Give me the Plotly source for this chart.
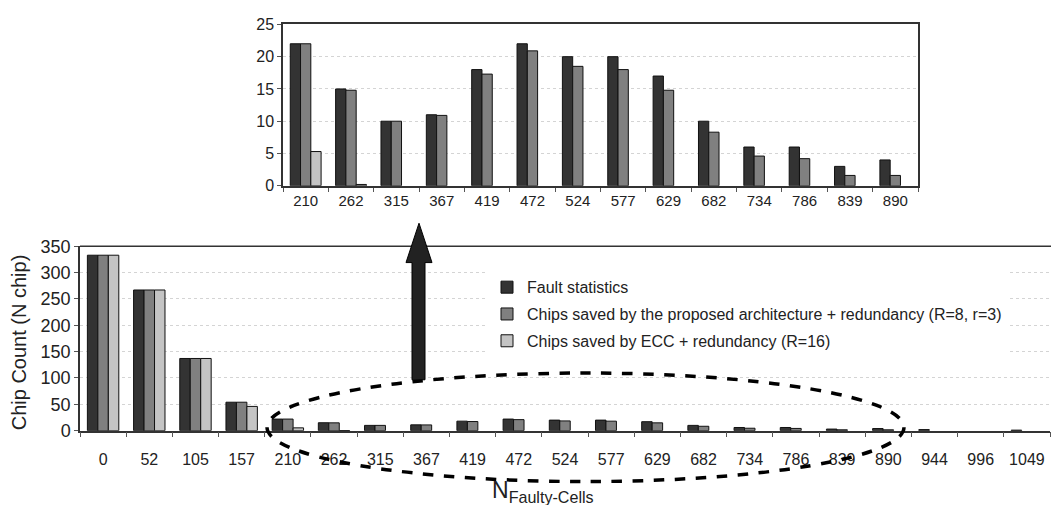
import plotly.graph_objects as go

# Number of faulty cells per chip (category labels)
faulty_cells = ["0", "52", "105", "157", "210", "262", "315", "367", "419", "472", "524",
                "577", "629", "682", "734", "786", "839", "890", "944", "996", "1049"]

# Chip counts per category
fault_statistics = [333, 267, 137, 54, 22, 15, 10, 11, 18, 22, 20, 20, 17, 10, 6, 6, 3, 4, 2, 0, 1]
saved_proposed = [333, 267, 137, 54, 22, 14.8, 10, 10.9, 17.3, 20.9, 18.5, 18, 14.8, 8.3, 4.6, 4.2, 1.6, 1.6, 0, 0, 0]
saved_ecc = [333, 267, 137, 46, 5.3, 0.2, 0, 0, 0, 0, 0, 0, 0, 0, 0, 0, 0, 0, 0, 0, 0]

# Zoomed range shown in the inset
inset_cells = faulty_cells[4:18]
inset_fault = fault_statistics[4:18]
inset_proposed = saved_proposed[4:18]
inset_ecc = saved_ecc[4:18]

series_names = ["Fault statistics",
                "Chips saved by the proposed architecture + redundancy (R=8, r=3)",
                "Chips saved by ECC + redundancy (R=16)"]
series_colors = ["#333333", "#808080", "#c4c4c4"]

W, H = 1051, 505
FONT = "Arial, Liberation Sans, sans-serif"


def px(x):
    return x / W


def py(y):
    return 1 - y / H


def outline_widths(values):
    # no outline on empty bars so they do not show as a flat line
    return [1 if v > 0 else 0 for v in values]


fig = go.Figure()

main_data = [fault_statistics, saved_proposed, saved_ecc]
inset_data = [inset_fault, inset_proposed, inset_ecc]

for i, (name, color) in enumerate(zip(series_names, series_colors)):
    fig.add_trace(go.Bar(
        x=faulty_cells, y=main_data[i], name=name, legendgroup=f"g{i}",
        marker=dict(color=color, line=dict(color="#111111", width=outline_widths(main_data[i]))),
        xaxis="x", yaxis="y",
    ))
for i, (name, color) in enumerate(zip(series_names, series_colors)):
    fig.add_trace(go.Bar(
        x=inset_cells, y=inset_data[i], name=name, showlegend=False,
        marker=dict(color=color, line=dict(color="#111111", width=outline_widths(inset_data[i]))),
        xaxis="x2", yaxis="y2",
    ))

fig.update_layout(
    width=W, height=H,
    margin=dict(l=0, r=0, t=0, b=0),
    paper_bgcolor="white", plot_bgcolor="white",
    barmode="group", bargap=0.32, bargroupgap=0,
    showlegend=True,
    legend=dict(
        x=px(487), y=py(271), xanchor="left", yanchor="top",
        bgcolor="white", font=dict(family=FONT, size=16, color="#222222"),
        traceorder="grouped", tracegroupgap=3, itemwidth=30,
    ),
    xaxis=dict(
        domain=[px(80), px(1050)], anchor="y", type="category",
        showline=True, mirror=False, ticks="outside", tickson="boundaries",
        ticklen=5, tickcolor="#555555", showgrid=False,
        linecolor="#333333", linewidth=1.5, ticklabelstandoff=13,
        tickfont=dict(family=FONT, color="#222222", size=16),
    ),
    yaxis=dict(
        domain=[py(438), py(246)], anchor="x", range=[0, 350], dtick=50,
        showline=True, ticks="outside", ticklen=4, tickcolor="#555555",
        showgrid=True, gridcolor="#d4d4d4", griddash="dot", gridwidth=1,
        zeroline=False,
        linecolor="#333333", linewidth=1.5,
        tickfont=dict(family=FONT, color="#222222", size=18),
    ),
    xaxis2=dict(
        domain=[px(283), px(918)], anchor="y2", type="category",
        showline=True, mirror=True, ticks="outside", tickson="boundaries",
        ticklen=4, tickcolor="#555555", showgrid=False,
        linecolor="#333333", linewidth=1.5,
        tickfont=dict(family=FONT, color="#222222", size=15),
    ),
    yaxis2=dict(
        domain=[py(183), py(15)], anchor="x2", range=[0, 25], dtick=5,
        showline=True, mirror=True, ticks="outside", ticklen=4, tickcolor="#555555",
        showgrid=True, gridcolor="#d4d4d4", griddash="dot", gridwidth=1,
        zeroline=False,
        linecolor="#333333", linewidth=1.5,
        tickfont=dict(family=FONT, color="#222222", size=16),
    ),
)

# Top frame line of the main plot
fig.add_shape(type="line", xref="paper", yref="paper",
              x0=px(80), x1=px(1051), y0=py(246), y1=py(246),
              line=dict(color="#333333", width=1.5))

# Dashed ellipse marking the zoomed region
fig.add_shape(type="circle", xref="paper", yref="paper",
              x0=px(267), x1=px(904), y0=py(491), y1=py(378),
              line=dict(color="black", width=3.5, dash="dash"), layer="above")

# Arrow pointing up to the inset
arrow_path = (f"M {px(412)} {py(385)} L {px(425)} {py(385)} L {px(425)} {py(263)} "
              f"L {px(432)} {py(263)} L {px(419)} {py(222)} L {px(406)} {py(263)} "
              f"L {px(412)} {py(263)} Z")
fig.add_shape(type="path", xref="paper", yref="paper", path=arrow_path,
              fillcolor="#222222", line=dict(color="black", width=1), layer="above")

# Axis titles
fig.add_annotation(
    text="Chip Count (N chip)", xref="paper", yref="paper",
    x=px(19), y=py(346), xanchor="center", yanchor="middle",
    showarrow=False, textangle=-90,
    font=dict(family=FONT, size=20, color="#222222"),
)
fig.add_annotation(
    text="N<sub>Faulty-Cells</sub>", xref="paper", yref="paper",
    x=px(490), y=py(501), xanchor="left", yanchor="middle", showarrow=False,
    font=dict(family=FONT, size=23, color="#222222"),
)

fig.write_html("out.html")
